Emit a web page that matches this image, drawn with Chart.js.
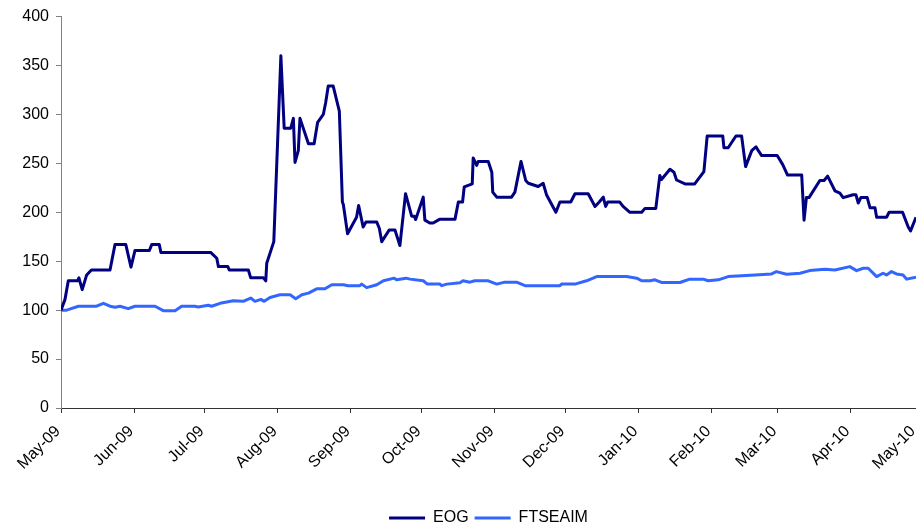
<!DOCTYPE html>
<html>
<head>
<meta charset="utf-8">
<script src="https://cdn.jsdelivr.net/npm/chart.js@4/dist/chart.umd.min.js"></script>
<style>
  html, body { margin: 0; padding: 0; background: #fff; }
  #wrap { width: 916px; height: 531px; position: relative; }
</style>
</head>
<body>
<div id="wrap"><canvas id="chart"></canvas></div>
<script>
// x values are days counted from 1 May 2009
const monthStarts = [0, 31, 61, 92, 123, 153, 184, 214, 245, 276, 304, 335, 365]
const monthLabels = ["May-09", "Jun-09", "Jul-09", "Aug-09", "Sep-09", "Oct-09", "Nov-09",
    "Dec-09", "Jan-10", "Feb-10", "Mar-10", "Apr-10", "May-10"]
const lastDay = 362.8

const yTicks = [0, 50, 100, 150, 200, 250, 300, 350, 400]

// EOG
const eogDays = [0, 1.7, 3.1, 7, 7.6, 9, 10.9, 12.9, 20.8, 22.9, 27.5, 29.7, 31.4, 37.5, 38.5, 41.7, 42.4,
    63.5, 66.1, 66.8, 70.8, 71.4, 79.5, 80.5, 85.9, 86.9, 87.3, 90.3, 93.3, 94.7, 97.5, 98.6, 99.3,
    100.7, 101.4, 105, 107.4, 108.9, 111.3, 112.3, 113.4, 115.5, 118.1, 119.4, 119.8, 121.6, 125.4,
    126.3, 128.2, 129.4, 134, 135.1, 136.1, 139.3, 141.7, 143.8, 146.2, 148.8, 149.9, 150.5, 153.7,
    154.4, 156.5, 157.9, 160.8, 167.2, 168.6, 170.4, 171.1, 174.5, 174.9, 176.4, 177, 181.3, 182.8,
    183.2, 184.9, 191.2, 192.6, 195.2, 197.2, 198.3, 202.5, 204.6, 206, 210, 211.7, 216.3, 218.1,
    223.7, 226.6, 228.4, 230.1, 231.1, 232, 237.1, 238.5, 241.4, 246.4, 247.8, 252.4, 254.1, 254.8,
    258.4, 260.1, 261.2, 264.8, 268.9, 272.8, 274.2, 280.8, 281.3, 283.1, 286.4, 288.8, 290.5, 293.1,
    294.9, 295.9, 297.3, 303.9, 306.2, 308.3, 314.3, 315.3, 316.3, 317.4, 322, 323.8, 325.3, 328.4,
    330.5, 331.9, 336.1, 337.3, 338.3, 339.4, 342.1, 343.3, 345.4, 346.1, 350.3, 351.4, 357.1, 359.5,
    360.5, 362.8]
const eogValues = [100, 111, 130, 130, 133, 121, 136, 141, 141, 167, 167, 144, 161, 161, 167, 167, 159,
    159, 153, 144.5, 144.5, 141, 141, 133, 133, 130, 148, 170, 360, 286, 286, 296, 251,
    263, 296, 270, 270, 292, 300, 312, 329, 329, 303.5, 210.5, 208, 178, 195,
    207, 185, 190, 190, 183.5, 170, 182, 182, 166, 219, 196, 196, 192.6, 215.5,
    192, 189, 189, 193, 193, 210.5, 210.5, 226, 229, 255.5, 248, 252, 252, 241,
    220.6, 215.5, 215.5, 220.6, 252, 232.5, 229.7, 226.4, 229.7, 218, 200, 210.5, 210.5, 219,
    219, 206, 210.5, 215.5, 206, 210.5, 210.5, 206, 200, 200, 204, 204, 237.6, 233.5,
    244, 241, 233, 229, 229, 241.6, 278, 278, 266, 266, 278, 278, 246.7, 263,
    267, 263, 258, 258, 249, 238, 238, 192, 215, 215, 232.5, 232.5, 237, 222,
    219.6, 215, 218, 218, 209.5, 215, 215, 204.6, 204.6, 195, 195, 200, 200, 185,
    181, 195]

// FTSEAIM
const aimDays = [0, 2.4, 7.4, 15.1, 18, 20.8, 23, 25, 28.5, 31.4, 39.9, 43.4, 48.4, 51.2, 56.8, 58.2,
    62.5, 63.9, 67.5, 73.1, 77.3, 80.5, 82.3, 84.8, 86.2, 88.7, 92.9, 97.2, 99.6, 102.2, 105, 108.5,
    112, 114.9, 119.8, 121.8, 126.8, 127.6, 129.7, 134, 136.8, 141.4, 142.4, 146.4, 148.1, 153.7,
    155.5, 160.8, 161.5, 163.7, 169.3, 170.6, 173.5, 175.6, 181.3, 184.9, 188.3, 193.3, 196.9, 211.7,
    212.4, 218.1, 223, 227.3, 240, 244.3, 246.4, 250, 252, 254.8, 262.6, 266.8, 272.5, 274.6, 278.9,
    283.1, 294.5, 301.5, 303.6, 307.9, 313.6, 317.7, 324.1, 328.4, 334.7, 337.6, 340.4, 342.5, 346.1,
    348.8, 350.3, 352.4, 354.5, 357.3, 358.8, 362.8]
const aimValues = [100, 100, 104, 104, 107, 104, 103, 104, 101.5, 104, 104, 99.5, 99.5, 104, 104, 103.3,
    105, 104, 107, 109.6, 109, 112.4, 109, 111, 109, 113, 115.7, 115.7, 111.7, 115.7, 117.4, 121.8,
    121.8, 126, 126, 125, 125, 126.6, 123, 126, 130, 132.7, 131, 132.7, 131.7, 130,
    126.6, 126.6, 125, 126.6, 128, 130, 128.6, 130, 130, 126.6, 128.6, 128.6, 125, 125,
    126.6, 126.6, 130, 134.3, 134.3, 132.7, 130, 130, 131, 128.3, 128.3, 131.7, 131.7, 130, 131,
    134.3, 136, 137, 139.4, 136.7, 137.7, 140.4, 141.8, 141, 144.5, 140.4, 142.8, 142.8, 134.3,
    137.7, 136, 139.4, 137, 136, 131.7, 133.7]

const toPoints = (xs, ys) => xs.map((x, i) => ({ x: x, y: ys[i] }))

const fontFamily = "'Liberation Sans', Arial, sans-serif"

new Chart(document.getElementById("chart"), {
    type: "line",
    data: {
        datasets: [
            {
                label: "EOG",
                data: toPoints(eogDays, eogValues),
                borderColor: "#000080",
                backgroundColor: "#000080",
                borderWidth: 3,
                borderJoinStyle: "round",
                pointRadius: 0,
                tension: 0
            },
            {
                label: "FTSEAIM",
                data: toPoints(aimDays, aimValues),
                borderColor: "#3366ff",
                backgroundColor: "#3366ff",
                borderWidth: 3,
                borderJoinStyle: "round",
                pointRadius: 0,
                tension: 0
            }
        ]
    },
    options: {
        responsive: true,
        maintainAspectRatio: false,
        animation: false,
        layout: {
            padding: { top: 15, right: 0, bottom: -5, left: 0 }
        },
        plugins: {
            legend: {
                position: "bottom",
                fullSize: false,
                labels: {
                    usePointStyle: true,
                    pointStyle: "line",
                    pointStyleWidth: 36,
                    padding: 6,
                    color: "#000",
                    font: { family: fontFamily, size: 16 }
                }
            },
            tooltip: { enabled: false }
        },
        scales: {
            x: {
                type: "linear",
                min: 0,
                max: lastDay,
                afterBuildTicks: scale => {
                    scale.ticks = monthStarts.map(d => ({ value: Math.min(d, lastDay) }))
                },
                afterFit: scale => {
                    scale.height = 96
                    scale.paddingLeft = 0
                    scale.paddingRight = 0
                },
                ticks: {
                    autoSkip: false,
                    minRotation: 45,
                    maxRotation: 45,
                    padding: 9,
                    labelOffset: -3,
                    color: "#000",
                    font: { family: fontFamily, size: 16 },
                    callback: (v, i) => monthLabels[i]
                },
                grid: {
                    drawOnChartArea: false,
                    drawTicks: true,
                    tickLength: 5,
                    color: "#333"
                },
                border: { color: "#333", width: 1 }
            },
            y: {
                min: 0,
                max: 400,
                afterBuildTicks: scale => {
                    scale.ticks = yTicks.map(v => ({ value: v }))
                },
                afterFit: scale => {
                    scale.width = 61
                },
                ticks: {
                    padding: 7,
                    color: "#000",
                    font: { family: fontFamily, size: 16 }
                },
                grid: {
                    drawOnChartArea: false,
                    drawTicks: true,
                    tickLength: 5,
                    color: "#808080"
                },
                border: { color: "#808080", width: 1 }
            }
        }
    }
})
</script>
</body>
</html>
